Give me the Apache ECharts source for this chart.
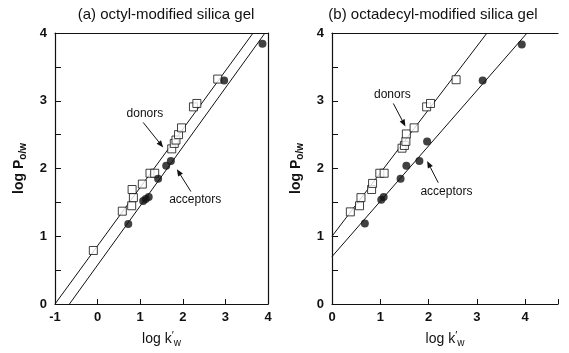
<!DOCTYPE html>
<html>
<head>
<meta charset="utf-8">
<script src="https://cdn.jsdelivr.net/npm/echarts@6/dist/echarts.min.js"></script>
<style>
html,body{margin:0;padding:0;background:#fff;}
#c{width:569px;height:353px;}
</style>
</head>
<body>
<div id="c"></div>
<script>
// ---- data ----
const panelTitles = ['(a) octyl-modified silica gel', '(b) octadecyl-modified silica gel'];
const leftXTicks = [-1, 0, 1, 2, 3, 4];
const rightXTicks = [0, 1, 2, 3, 4];
const yTicks = [0, 1, 2, 3, 4];

const leftDonors = [[-0.10,0.79],[0.58,1.37],[0.80,1.45],[0.84,1.57],[0.81,1.69],[1.05,1.77],[1.23,1.93],[1.34,1.93],
  [1.74,2.29],[1.80,2.37],[1.84,2.42],[1.90,2.50],[1.97,2.60],[2.25,2.91],[2.33,2.96],[2.82,3.32]];
const leftAcceptors = [[0.72,1.18],[1.07,1.52],[1.13,1.55],[1.20,1.58],[1.42,1.85],[1.61,2.04],[1.72,2.11],[2.97,3.30],[3.87,3.84]];
const leftDonorLine = [[-1,0],[3.65,4]];
const leftAcceptorLine = [[-0.66,0],[3.93,4]];

const rightDonors = [[0.38,1.36],[0.57,1.45],[0.60,1.57],[0.82,1.69],[0.84,1.78],[0.99,1.93],[1.08,1.93],[1.45,2.30],
  [1.50,2.34],[1.53,2.40],[1.54,2.51],[1.70,2.60],[1.96,2.91],[2.04,2.96],[2.57,3.31]];
const rightAcceptors = [[0.68,1.19],[1.02,1.54],[1.07,1.58],[1.42,1.85],[1.54,2.04],[1.81,2.11],[1.97,2.40],[3.12,3.30],[3.93,3.83]];
const rightDonorLine = [[0,1.0],[3.21,4]];
const rightAcceptorLine = [[0,0.70],[4.04,4]];

// annotations: [grid, text, textPos, arrowFrom, arrowTo]
const annotations = [
  [0, 'donors', [1.11,2.81], [1.07,2.68], [1.54,2.31]],
  [0, 'acceptors', [2.29,1.54], [2.19,1.66], [1.86,1.99]],
  [1, 'donors', [1.25,3.09], [1.27,2.96], [1.52,2.62]],
  [1, 'acceptors', [2.37,1.66], [2.20,1.79], [1.97,2.11]]
];

const FONT = 'Liberation Sans, Arial, sans-serif';
const chart = echarts.init(document.getElementById('c'), null, {renderer: 'canvas'});

function bottomX(grid, min, max, ticks) {
  return {
    gridIndex: grid, type: 'value', min: min, max: max, interval: 1, position: 'bottom',
    name: '{a|log k}{p|\u2032}{s|w}', nameLocation: 'middle', nameGap: 26,
    nameTextStyle: {color: '#111', fontFamily: FONT, fontSize: 14, rich: {
      a: {fontSize: 14, fontFamily: FONT, color: '#111'},
      p: {fontSize: 11, fontFamily: FONT, color: '#111', verticalAlign: 'top', padding: [0,0,6,0]},
      s: {fontSize: 10, fontFamily: FONT, color: '#111', padding: [8,0,0,0]}
    }},
    axisLine: {show: true, onZero: false, lineStyle: {color: '#111', width: 1.2}},
    axisTick: {show: true, inside: true, length: 5, lineStyle: {color: '#111'}},
    axisLabel: {color: '#111', fontSize: 13, fontWeight: 'bold', fontFamily: FONT, margin: 7,
      formatter: v => (ticks.indexOf(v) >= 0 ? String(v) : '')},
    splitLine: {show: false}
  };
}
function topX(grid, min, max) {
  return {gridIndex: grid, type: 'value', min: min, max: max, position: 'top',
    axisLine: {show: true, onZero: false, lineStyle: {color: '#111', width: 1.2}},
    axisTick: {show: false}, axisLabel: {show: false}, splitLine: {show: false}};
}
function leftY(grid) {
  return {
    gridIndex: grid, type: 'value', min: 0, max: 4, interval: 0.5, position: 'left',
    name: '{a|log P}{s|o/w}', nameLocation: 'middle', nameGap: 27, nameRotate: 90,
    nameTextStyle: {color: '#111', fontFamily: FONT, fontSize: 14, rich: {
      a: {fontSize: 14, fontWeight: 'bold', fontFamily: FONT, color: '#111'},
      s: {fontSize: 10, fontWeight: 'bold', fontFamily: FONT, color: '#111', padding: [8,0,0,0]}
    }},
    axisLine: {show: true, onZero: false, lineStyle: {color: '#111', width: 1.2}},
    axisTick: {show: true, inside: true, length: 6, lineStyle: {color: '#111'}},
    axisLabel: {color: '#111', fontSize: 13, fontWeight: 'bold', fontFamily: FONT, margin: 8,
      formatter: v => (yTicks.indexOf(v) >= 0 ? String(v) : '')},
    splitLine: {show: false}
  };
}
function rightY(grid) {
  return {gridIndex: grid, type: 'value', min: 0, max: 4, position: 'right',
    axisLine: {show: true, onZero: false, lineStyle: {color: '#111', width: 1.2}},
    axisTick: {show: false}, axisLabel: {show: false}, splitLine: {show: false}};
}
function pts(grid, data, kind) {
  return {
    type: 'scatter', xAxisIndex: grid * 2, yAxisIndex: grid === 0 ? 0 : 2, data: data,
    symbol: kind === 'donor' ? 'rect' : 'circle', symbolSize: 8,
    itemStyle: kind === 'donor' ? {color: '#fff', borderColor: '#111', borderWidth: 1} : {color: '#111'},
    z: 5, silent: true
  };
}
function line(grid, data) {
  return {type: 'line', xAxisIndex: grid * 2, yAxisIndex: grid === 0 ? 0 : 2, data: data,
    showSymbol: false, symbol: 'none', lineStyle: {color: '#111', width: 1}, z: 3, silent: true, animation: false};
}

chart.setOption({
  animation: false,
  backgroundColor: '#fff',
  title: [
    {text: panelTitles[0], left: 161, top: 2, textAlign: 'center', textStyle: {fontFamily: FONT, fontSize: 15, fontWeight: 'normal', color: '#111'}},
    {text: panelTitles[1], left: 428, top: 2, textAlign: 'center', textStyle: {fontFamily: FONT, fontSize: 15, fontWeight: 'normal', color: '#111'}}
  ],
  grid: [
    {left: 55, top: 33, width: 213, height: 276.5},
    {left: 332, top: 33, width: 226, height: 276}
  ],
  xAxis: [bottomX(0, -1, 4, leftXTicks), topX(0, -1, 4), bottomX(1, 0, 4.68, rightXTicks), topX(1, 0, 4.68)],
  yAxis: [leftY(0), rightY(0), leftY(1)],
  series: [
    line(0, leftDonorLine), line(0, leftAcceptorLine),
    pts(0, leftDonors, 'donor'), pts(0, leftAcceptors, 'acceptor'),
    line(1, rightDonorLine), line(1, rightAcceptorLine),
    pts(1, rightDonors, 'donor'), pts(1, rightAcceptors, 'acceptor')
  ]
});

// annotations positioned in data coordinates
const graphics = [];
annotations.forEach(a => {
  const g = a[0];
  const conv = p => chart.convertToPixel({xAxisIndex: g * 2, yAxisIndex: g === 0 ? 0 : 2}, p);
  const t = conv(a[2]), f = conv(a[3]), e = conv(a[4]);
  graphics.push({type: 'text', x: t[0], y: t[1], style: {text: a[1], fill: '#111', font: '12px ' + FONT, textAlign: 'center', textVerticalAlign: 'middle'}});
  const dx = e[0] - f[0], dy = e[1] - f[1], L = Math.hypot(dx, dy), ux = dx / L, uy = dy / L;
  const hl = 7, hw = 2.8;
  const bx = e[0] - ux * hl, by = e[1] - uy * hl;
  graphics.push({type: 'line', shape: {x1: f[0], y1: f[1], x2: bx, y2: by}, style: {stroke: '#111', lineWidth: 1}});
  graphics.push({type: 'polygon', shape: {points: [[e[0], e[1]], [bx - uy * hw, by + ux * hw], [bx + uy * hw, by - ux * hw]]}, style: {fill: '#111'}});
});
chart.setOption({graphic: graphics});
</script>
</body>
</html>
